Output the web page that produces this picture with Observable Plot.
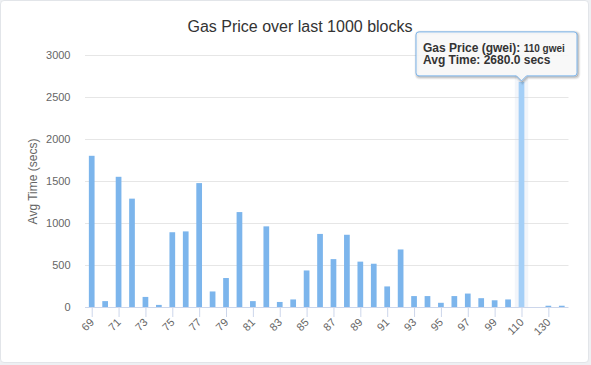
<!DOCTYPE html>
<html><head><meta charset="utf-8">
<script src="https://cdn.jsdelivr.net/npm/d3@7"></script>
<script src="https://cdn.jsdelivr.net/npm/@observablehq/plot@0.6"></script>
<style>
body{margin:0;background:#eef0f3;font-family:"Liberation Sans",Arial,sans-serif;}
#wrap{position:relative;width:591px;height:365px;overflow:hidden;}
#card{position:absolute;left:0;top:0;width:587px;height:361px;border:1px solid #e2e5e9;border-radius:4px;background:#fff;}
#chart{position:absolute;left:0;top:0;}
#title{position:absolute;left:0;top:18px;width:600px;text-align:center;font-size:16px;line-height:18px;color:#333;}
#chart svg [aria-label="y-axis label"] text{font-size:12px;fill:#666;}
</style></head><body>
<div id="wrap"><div id="card"></div><div id="chart"></div><div id="title"></div></div>
<script>
const chartTitle = "Gas Price over last 1000 blocks";
const yLabel = "Avg Time (secs)";
const gasPrices = ["69","70","71","72","73","74","75","76","77","78","79","80","81","82","83","84","85","86","87","88","89","90","91","92","93","94","95","96","97","98","99","100","110","120","130","140"];
const avgTimes = [1800,70,1550,1290,120,25,890,900,1475,185,345,1130,70,960,60,90,435,870,570,860,540,515,245,685,130,130,50,130,160,105,80,90,2680,0,15,15];
const yTicks = [0,500,1000,1500,2000,2500,3000];
const xTickLabels = gasPrices.filter((d,i)=>i%2===0);
const hovered = "110";

document.getElementById("title").textContent = chartTitle;

const data = gasPrices.map((g,i)=>({gas:g, time:avgTimes[i]}));
const yMax = yTicks[yTicks.length-1];
const padIn = 0.575;

function tooltipMark(index, scales, values, dimensions) {
  const i = gasPrices.indexOf(hovered);
  const xs = scales.x;
  const bw = xs.bandwidth ? xs.bandwidth() : (xs(gasPrices[1]) - xs(gasPrices[0])) * (1 - padIn);
  const px = xs(hovered) + bw / 2;
  const py = scales.y(avgTimes[i]) - 1;
  const w = 161, h = 44, r = 3, pw = 5, ph = 5;
  const B = py - ph, T = B - h;
  let R = Math.min(px + w / 2, dimensions.width - 14);
  const L = R - w;
  const path = `M${L+r},${T}H${R-r}Q${R},${T} ${R},${T+r}V${B-r}Q${R},${B} ${R-r},${B}H${px+pw}L${px},${py}L${px-pw},${B}H${L+r}Q${L},${B} ${L},${B-r}V${T+r}Q${L},${T} ${L+r},${T}Z`;
  const g = d3.create("svg:g");
  [[5,0.05],[3,0.1],[1,0.15]].forEach(([sw,op]) => {
    g.append("path").attr("d", path).attr("transform","translate(1,1)")
      .attr("fill","none").attr("stroke","#000").attr("stroke-opacity",op).attr("stroke-width",sw);
  });
  g.append("path").attr("d", path).attr("fill","rgba(247,247,247,0.92)").attr("stroke","#7cb5ec").attr("stroke-width",1);
  const t = g.append("text").attr("fill","#333").attr("text-anchor","start")
    .attr("font-family","Liberation Sans, Arial, sans-serif").attr("font-weight","bold");
  const l1 = t.append("tspan").attr("x", L + 7).attr("y", T + 20);
  l1.append("tspan").attr("font-size", 12).text("Gas Price (gwei): ");
  l1.append("tspan").attr("font-size", 10).text(hovered + " gwei");
  t.append("tspan").attr("x", L + 7).attr("y", T + 32.5).attr("font-size", 12)
    .text("Avg Time: " + avgTimes[i].toFixed(1) + " secs");
  return g.node();
}

const chart = Plot.plot({
  width: 591, height: 365,
  marginLeft: 85, marginRight: 22.5, marginTop: 55, marginBottom: 58,
  style: {background: "transparent", fontFamily: "Liberation Sans, Arial, sans-serif", fontSize: "11px", color: "#666", overflow: "visible"},
  x: {domain: gasPrices, paddingInner: padIn, paddingOuter: padIn / 2, align: 0.5, round: false},
  y: {domain: [0, yMax]},
  marks: [
    Plot.gridY(yTicks.slice(1), {stroke: "#e6e6e6", strokeOpacity: 1}),
    Plot.barY(data.filter(d => d.gas === hovered), {x: "gas", y: () => yMax, fill: "#ccd6eb", fillOpacity: 0.25, insetLeft: -3.86, insetRight: -3.86}),
    Plot.barY(data.filter(d => d.gas !== hovered), {x: "gas", y: "time", fill: "#7cb5ec"}),
    Plot.barY(data.filter(d => d.gas === hovered), {x: "gas", y: "time", fill: "#a4cff7"}),
    Plot.ruleY([0], {stroke: "#ccd6eb"}),
    Plot.axisY(yTicks, {tickSize: 0, tickPadding: 15, tickFormat: d => String(d), label: yLabel, labelAnchor: "center", labelOffset: 57, labelArrow: "none", fill: "#666"}),
    Plot.axisX(xTickLabels, {tickSize: 10, tickPadding: 3, tickRotate: -45, stroke: "#ccd6eb", fill: "#666", label: null}),
    tooltipMark
  ]
});
document.getElementById("chart").appendChild(chart);
</script>
</body></html>
